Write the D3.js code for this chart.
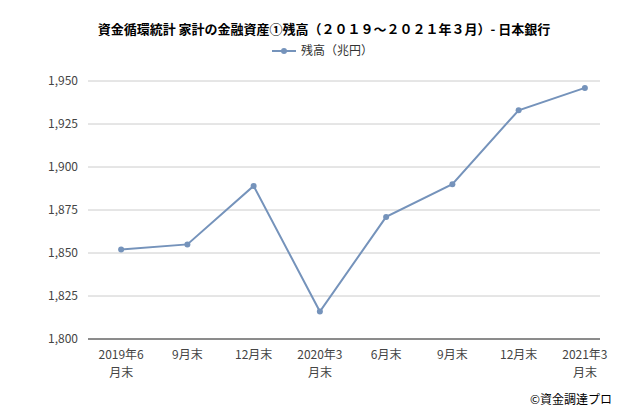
<!DOCTYPE html>
<html lang="ja">
<head>
<meta charset="UTF-8">
<script src="https://d3js.org/d3.v7.min.js"></script>
<style>
  body { margin: 0; background: #fff; }
  text { font-family: "Noto Sans CJK JP", "Noto Sans", sans-serif; }
</style>
</head>
<body>
<svg id="chart" width="620" height="412"></svg>
<script>
const categories = [["2019年6", "月末"], ["9月末"], ["12月末"], ["2020年3", "月末"], ["6月末"], ["9月末"], ["12月末"], ["2021年3", "月末"]];
const values = [1852, 1855, 1889, 1816, 1871, 1890, 1933, 1946];
const yTicks = [1800, 1825, 1850, 1875, 1900, 1925, 1950];

const svg = d3.select("#chart");
const margin = { left: 88, right: 20, top: 81, bottom: 73 };
const W = 620, H = 412;

const x = d3.scaleBand().domain(d3.range(categories.length)).range([margin.left, 618]);
const y = d3.scaleLinear().domain([1800, 1950]).range([H - margin.bottom, margin.top]);

svg.append("text").attr("x", 324).attr("y", 34).attr("text-anchor", "middle")
  .attr("font-size", 13).attr("font-weight", "bold").attr("fill", "#000")
  .text("資金循環統計 家計の金融資産①残高（２０１９～２０２１年３月）- 日本銀行");

// legend
const lg = svg.append("g");
lg.append("line").attr("x1", 272).attr("x2", 296).attr("y1", 51).attr("y2", 51)
  .attr("stroke", "#7593bb").attr("stroke-width", 2);
lg.append("circle").attr("cx", 284).attr("cy", 51).attr("r", 3).attr("fill", "#7593bb");
lg.append("text").attr("x", 301).attr("y", 55).attr("font-size", 12).attr("fill", "#333").text("残高（兆円）");

// grid
svg.append("g").selectAll("line").data(yTicks).join("line")
  .attr("x1", margin.left).attr("x2", W - margin.right)
  .attr("y1", d => y(d)).attr("y2", d => y(d))
  .attr("stroke", "#ccc").attr("stroke-width", 1);

const yAxis = svg.append("g").attr("transform", `translate(${margin.left},0)`)
  .call(d3.axisLeft(y).tickValues(yTicks).tickSize(0).tickPadding(10).tickFormat(d3.format(",")));
yAxis.select(".domain").remove();
yAxis.selectAll("text").attr("font-size", 12).attr("fill", "#444");

svg.append("line").attr("x1", margin.left).attr("x2", W - margin.right)
  .attr("y1", y(1800)).attr("y2", y(1800)).attr("stroke", "#333");
const xAxis = svg.append("g").attr("transform", `translate(0,${H - margin.bottom})`)
  .call(d3.axisBottom(x).tickSize(0).tickFormat(""));
xAxis.select(".domain").remove();
xAxis.selectAll(".tick").each(function (d) {
  const t = d3.select(this).append("text").attr("fill", "#444").attr("font-size", 12).attr("text-anchor", "middle");
  categories[d].forEach((s, i) => t.append("tspan").attr("x", 0).attr("y", 20 + i * 18).text(s));
});

const cx = i => x(i) + x.bandwidth() / 2;
svg.append("path").datum(values)
  .attr("fill", "none").attr("stroke", "#7593bb").attr("stroke-width", 2)
  .attr("d", d3.line().x((d, i) => cx(i)).y(d => y(d)));
svg.append("g").selectAll("circle").data(values).join("circle")
  .attr("cx", (d, i) => cx(i)).attr("cy", d => y(d)).attr("r", 3).attr("fill", "#7593bb");

svg.append("text").attr("x", 612).attr("y", 404).attr("text-anchor", "end")
  .attr("font-size", 12).attr("fill", "#000").text("©資金調達プロ");
</script>
</body>
</html>
